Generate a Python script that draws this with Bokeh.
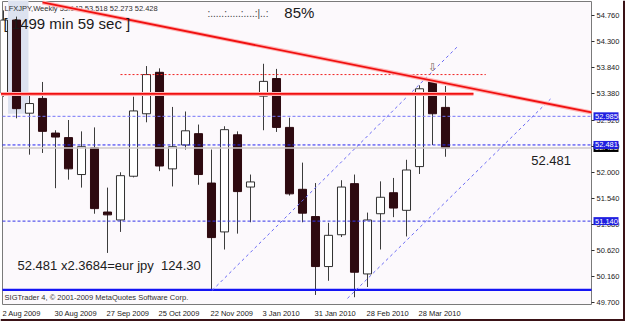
from bokeh.plotting import figure
from bokeh.models import Range1d, FixedTicker, PrintfTickFormatter, ColumnDataSource
from bokeh.embed import file_html
from bokeh.resources import INLINE
from bokeh.core.properties import value

# ---- data ----
bars = list(range(35))
opens = [53.40, 54.68, 53.04, 53.30, 52.69, 52.61, 51.96, 52.43, 51.30, 51.16,
         51.93, 53.03, 53.76, 52.06, 52.48, 52.68, 51.81, 50.95, 52.66, 51.74,
         53.34, 53.65, 52.79, 51.70, 51.22, 50.34, 50.90, 51.80, 50.21, 51.27,
         51.64, 51.33, 52.10, 53.59, 53.142]
highs = [54.85, 54.74, 53.36, 53.59, 52.74, 52.92, 52.72, 52.79, 51.73, 52.00,
         53.33, 53.87, 53.83, 53.15, 53.07, 52.84, 52.40, 52.81, 52.72, 51.96,
         53.91, 53.82, 52.96, 52.17, 51.81, 51.11, 51.86, 51.96, 51.29, 51.84,
         51.90, 52.22, 53.53, 53.62, 53.518]
lows = [53.33, 52.95, 52.31, 52.34, 51.72, 51.87, 51.73, 51.27, 50.58, 50.95,
        51.91, 52.88, 52.02, 51.75, 52.40, 51.78, 49.92, 50.64, 50.92, 51.12,
        52.74, 52.71, 51.59, 51.12, 49.84, 50.09, 50.86, 49.80, 49.98, 50.64,
        51.21, 50.87, 51.97, 52.48, 52.273]
closes = [54.68, 53.12, 53.21, 52.72, 52.62, 52.06, 52.45, 51.36, 51.25, 51.94,
          53.08, 53.72, 52.11, 52.45, 52.73, 51.96, 50.85, 52.75, 51.66, 51.83,
          53.60, 52.79, 51.62, 51.28, 50.34, 50.89, 51.74, 50.24, 51.16, 51.56,
          51.37, 52.04, 53.47, 53.03, 52.428]

date_tick_bars = [0, 4, 8, 12, 16, 20, 24, 28, 32]
date_tick_labels = ["2 Aug 2009", "30 Aug 2009", "27 Sep 2009", "25 Oct 2009",
                    "22 Nov 2009", "3 Jan 2010", "31 Jan 2010", "28 Feb 2010", "28 Mar 2010"]
price_ticks = [49.70, 50.16, 50.62, 51.08, 51.54, 52.00, 52.46, 52.92, 53.38, 53.84, 54.30, 54.76]

resist_level = 53.38
resist_x = [-0.2, 36.15]
upper_dotted_level = 53.72
upper_dotted_x = [9.0, 37.1]
blue_levels = [52.985, 52.481, 51.140]
bid_level = 52.428
support_level = 49.93
trend_x = [3.0, 45.3]
trend_y = [54.99, 53.05]
chan_a_x = [16.05, 35.0]
chan_a_y = [49.92, 54.23]
chan_b_x = [26.46, 42.08]
chan_b_y = [49.78, 53.29]
shade_box = dict(left=0.35, right=1.92, bottom=53.03, top=55.2)

header = "LFXJPY,Weekly  53.142 53.518 52.273 52.428"
timer_text = "[ 1499 min 59 sec ]"
calc_text = "52.481 x2.3684=eur jpy \u00a0124.30"
last_text = "52.481"
copyright_text = "SIGTrader 4, \u00a9 2001-2009 MetaQuotes Software Corp."
progress_text = ":.....:.....:....:|..:"

# ---- layout constants (the frame covers the whole picture) ----
PX_PER_BAR = 13.0
PX_PER_PRICE = 56.8
X0 = -3 / PX_PER_BAR                 # canvas left edge
X1 = X0 + 625 / PX_PER_BAR           # canvas right edge
CHART_L = X0 + 2 / PX_PER_BAR        # chart area left border
CHART_END = X0 + 591 / PX_PER_BAR    # price scale starts here
Y1 = 54.76 + 15 / PX_PER_PRICE       # canvas top
Y0 = Y1 - 321 / PX_PER_PRICE         # canvas bottom
CHART_T = Y1 - 1 / PX_PER_PRICE
CHART_B = Y1 - 304 / PX_PER_PRICE

p = figure(width=625, height=321, output_backend="svg", toolbar_location=None,
           x_range=Range1d(X0, X1), y_range=Range1d(Y0, Y1),
           y_axis_location="right", min_border=0)
p.background_fill_color = "white"
p.border_fill_color = "white"
p.outline_line_color = None
p.grid.visible = False

ax_font = "Liberation Sans"
FS = 7.5
W = {c: 556 for c in "0123456789"}
W.update({" ": 278, "A": 667, "u": 556, "g": 556, "S": 667, "e": 556, "p": 556, "O": 778,
          "c": 500, "t": 278, "N": 722, "o": 556, "v": 500, "J": 500, "a": 556, "n": 556,
          "F": 611, "b": 556, "M": 833, "r": 333})
def text_w(s):
    return sum(W.get(ch, 556) for ch in s) * FS / 1000.0
tick_pos = [b + (text_w(l) / 2 - 1.0) / PX_PER_BAR for b, l in zip(date_tick_bars, date_tick_labels)]

# chart area background, borders and window edge
p.quad(left=[CHART_L], right=[CHART_END], bottom=[CHART_B], top=[CHART_T],
       fill_color="#FCF9FC", line_color=None)
p.line([CHART_L, CHART_END], [CHART_B] * 2, line_color="#7a7a7a", line_width=1)
p.line([CHART_L, CHART_END], [CHART_T] * 2, line_color="#7a7a7a", line_width=1)
p.line([CHART_L] * 2, [CHART_B, CHART_T], line_color="#7a7a7a", line_width=1)
p.line([CHART_END] * 2, [CHART_B, CHART_T], line_color="#7a7a7a", line_width=1)
p.quad(left=[X1 - 2.5 / PX_PER_BAR], right=[X1], bottom=[Y0], top=[Y1], color="#3a1216", line_color=None)
p.quad(left=[X0], right=[X1], bottom=[Y0], top=[Y0 + 2.5 / PX_PER_PRICE], color="#3a1216", line_color=None)

p.yaxis.fixed_location = CHART_END
p.xaxis.fixed_location = CHART_B
p.yaxis.ticker = FixedTicker(ticks=price_ticks)
p.yaxis.formatter = PrintfTickFormatter(format="%.3f")
p.xaxis.ticker = FixedTicker(ticks=tick_pos)
p.xaxis.major_label_overrides = {t: l for t, l in zip(tick_pos, date_tick_labels)}
for ax in (p.xaxis[0], p.yaxis[0]):
    ax.axis_line_color = None
    ax.minor_tick_line_color = None
    ax.major_label_text_font = ax_font
    ax.major_label_text_font_size = f"{FS}px"
    ax.major_label_text_color = "#1a1a1a"
    ax.major_tick_line_color = "#303030"
    ax.major_tick_in = 0
p.yaxis.major_tick_out = 3
p.yaxis.major_label_standoff = 2
p.xaxis.major_tick_out = 0
p.xaxis.major_label_standoff = 4

p.quad(color="#DDE2F0", line_color=None, **{k: [v] for k, v in shade_box.items()})

up = [c >= o for o, c in zip(opens, closes)]
src = ColumnDataSource(dict(
    x=bars, low=lows, high=highs,
    top=[max(o, c) for o, c in zip(opens, closes)],
    bottom=[min(o, c) for o, c in zip(opens, closes)],
    fill=["#FFFFFF" if u else "#2E0A10" for u in up],
    line=["#303030" if u else "#2E0A10" for u in up],
))
p.segment(x0="x", y0="low", x1="x", y1="high", source=src, line_color="#3c3c3c", line_width=1)
p.vbar(x="x", width=0.62, top="top", bottom="bottom", source=src,
       fill_color="fill", line_color="line", line_width=1)

full_x = [CHART_L, CHART_END]
for lvl, col in zip(blue_levels, ["#7474F8", "#2424F0", "#3434E8"]):
    p.line(full_x, [lvl] * 2, line_color=col, line_width=1, line_dash="3 2")
p.line(full_x, [bid_level] * 2, line_color="#CFC8C8", line_width=1.5)
p.line(full_x, [support_level] * 2, line_color="#1414F4", line_width=2.2)

p.line(chan_a_x, chan_a_y, line_color="#6A6AF4", line_width=1, line_dash="3 3")
p.line(chan_b_x, chan_b_y, line_color="#6A6AF4", line_width=1, line_dash="3 3")

p.line(resist_x, [resist_level] * 2, line_color="#FFB4B4", line_width=4)
p.line(resist_x, [resist_level] * 2, line_color="#F01010", line_width=1.6)
p.line(upper_dotted_x, [upper_dotted_level] * 2, line_color="#F02020", line_width=1, line_dash="2 2")

p.text(x=[0.08], y=[54.883], text=[header], text_font=value(ax_font), text_font_size="7.5px",
       text_color="#303030", text_baseline="middle", text_align="left")
slope = (trend_y[1] - trend_y[0]) / (trend_x[1] - trend_x[0])
tx = [trend_x[0], CHART_END]
ty = [trend_y[0], trend_y[0] + slope * (CHART_END - trend_x[0])]
p.line(tx, ty, line_color="#FFB4B4", line_width=4)
p.line(tx, ty, line_color="#F01010", line_width=1.8)

p.text(x=[0.0], y=[54.62], text=[timer_text], text_font=value(ax_font), text_font_size="15px",
       text_color="#1a1a1a", text_baseline="middle", text_align="left")
p.text(x=[15.69], y=[54.79], text=[progress_text], text_font=value(ax_font),
       text_font_size="10px", text_color="#404040", text_baseline="middle", text_align="left")
p.text(x=[21.6], y=[54.81], text=["85%"], text_font=value(ax_font), text_font_size="15px",
       text_color="#1a1a1a", text_baseline="middle", text_align="left")
p.text(x=[1.08], y=[50.36], text=[calc_text], text_font=value(ax_font), text_font_size="13px",
       text_color="#202020", text_baseline="middle", text_align="left")
p.text(x=[40.6], y=[52.207], text=[last_text], text_font=value(ax_font), text_font_size="13px",
       text_color="#202020", text_baseline="middle", text_align="left")
p.text(x=[0.08], y=[49.795], text=[copyright_text], text_font=value(ax_font), text_font_size="7.5px",
       text_color="#303030", text_baseline="middle", text_align="left")
p.text(x=[33.0], y=[53.845], text=["\u21e9"], text_font=value("DejaVu Sans"), text_font_size="11px",
       text_color="#7a6a5a", text_baseline="middle", text_align="center")

# highlighted price boxes on the price scale, drawn above the axis labels
half_h = 4.0 / PX_PER_PRICE
bl = CHART_END + 2 / PX_PER_BAR
br = CHART_END + 27 / PX_PER_BAR
for lvl, bg in [(bid_level, "#000000")] + [(l, "#2020E0") for l in blue_levels]:
    rb = p.quad(left=[bl], right=[br], bottom=[lvl - half_h], top=[lvl + half_h],
                fill_color=bg, line_color=None)
    rb.level = "overlay"
    rt = p.text(x=[bl + 1.5 / PX_PER_BAR], y=[lvl], text=[f"{lvl:.3f}"], text_font=value(ax_font),
                text_font_size="7.5px", text_color="white", text_baseline="middle", text_align="left")
    rt.level = "overlay"

open("out.html", "w").write(file_html(p, INLINE))
